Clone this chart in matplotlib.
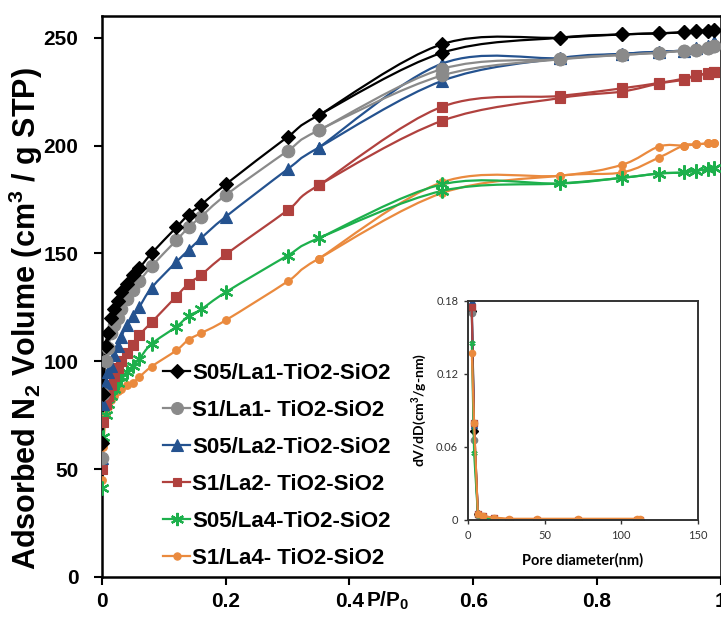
import numpy as np
import matplotlib
matplotlib.use('Agg')
import matplotlib.pyplot as plt
from matplotlib.path import Path
from matplotlib.patches import PathPatch
from matplotlib.lines import Line2D

# adsorption branch (relative pressure P/P0)
p_ads = [0.0005, 0.002, 0.006, 0.01, 0.015, 0.02, 0.026, 0.031, 0.04, 0.05, 0.06, 0.08,
         0.12, 0.14, 0.16, 0.20, 0.30, 0.35, 0.55, 0.74, 0.84, 0.90, 0.94, 0.96, 0.98, 0.99]
# desorption branch
p_des = [0.99, 0.98, 0.96, 0.94, 0.90, 0.84, 0.74, 0.55, 0.35]

labels = ['S05/La1-TiO2-SiO2', 'S1/La1- TiO2-SiO2', 'S05/La2-TiO2-SiO2',
          'S1/La2- TiO2-SiO2', 'S05/La4-TiO2-SiO2', 'S1/La4- TiO2-SiO2']
colors = ['#000000', '#8a8a8a', '#24528f', '#b0413e', '#1db04c', '#ea8a3e']
markers = ['D', 'o', '^', 's', (6, 2, 0), 'o']
msizes = [7, 9, 8.5, 6.5, 10, 5.5]

ads_s05la1 = [62, 85, 107, 113, 120, 124, 128, 132, 136, 140, 143, 150, 162, 168, 172.5, 182,
              204, 214, 243, 250, 251.5, 252, 252.5, 253, 253.3, 253.5]
des_s05la1 = [253.5, 253.3, 253, 252.5, 252, 251.5, 250, 247, 214]
ads_s1la1 = [55, 85, 100, 106, 113, 117, 120, 124, 129, 133, 137, 144, 156, 162, 167, 177,
             197.5, 207, 232.5, 240, 242, 243, 244, 244.5, 245, 246]
des_s1la1 = [246, 245, 244.5, 244, 243, 242, 240, 235.5, 207]
ads_s05la2 = [55, 80, 90, 95, 98, 103, 107, 111, 117, 121, 125, 134, 146, 151.5, 157, 167,
              189, 199, 230, 240.5, 242.5, 243.5, 244, 245, 246, 248]
des_s05la2 = [248, 246, 245, 244, 243.5, 242.5, 240.5, 238, 199]
ads_s1la2 = [50, 72, 80, 84, 89, 93, 97, 100, 104, 107.5, 112, 118, 130, 136, 140, 149.5,
             170, 181.5, 211.5, 222, 225, 228.7, 230.5, 232.4, 233.3, 234]
des_s1la2 = [234, 233.5, 232.5, 231, 229, 226.5, 223, 218, 181.5]
ads_s05la4 = [41, 65, 75, 80, 84, 87, 90, 92.5, 95, 98, 101, 108, 116, 121, 124, 132,
              149, 157, 179, 182.4, 185, 187, 187.5, 188.4, 189, 189.5]
des_s05la4 = [189.5, 189, 188.4, 187.5, 187, 185, 182.4, 182, 157]
ads_s1la4 = [45, 60, 75, 79, 82, 84, 86, 87, 89, 90, 92.6, 97.5, 105, 110, 113, 119,
             137, 147.5, 178, 186, 187.5, 194.4, 200, 200.5, 201, 201.3]
des_s1la4 = [201.3, 201, 200.5, 200, 199.5, 191, 186, 183, 147.5]

ads_all = [ads_s05la1, ads_s1la1, ads_s05la2, ads_s1la2, ads_s05la4, ads_s1la4]
des_all = [des_s05la1, des_s1la1, des_s05la2, des_s1la2, des_s05la4, des_s1la4]

# inset: pore size distribution
pore_d = [2.5, 4, 6.5, 9.7, 17, 27, 45, 72, 110, 112]
psd_s05la1 = [0.172, 0.073, 0.005, 0.002, 0.001, 0, 0, 0, 0, 0]
psd_s1la1 = [0.170, 0.066, 0.004, 0.002, 0.001, 0, 0, 0, 0, 0]
psd_s05la2 = [0.180, 0.078, 0.005, 0.002, 0.001, 0, 0, 0, 0, 0]
psd_s1la2 = [0.175, 0.080, 0.005, 0.003, 0.002, 0, 0, 0, 0, 0]
psd_s05la4 = [0.145, 0.055, 0.004, 0.002, 0.001, 0, 0, 0, 0, 0]
psd_s1la4 = [0.137, 0.080, 0.005, 0.003, 0.002, 0.001, 0.001, 0.001, 0.001, 0.001]
psd_all = [psd_s05la1, psd_s1la1, psd_s05la2, psd_s1la2, psd_s05la4, psd_s1la4]


def smooth_path(x, y):
	# excel-like smoothed line, drawn as cubic bezier segments
	pts = np.column_stack([x, y]).astype(float)
	n = len(pts)
	verts = [pts[0]]
	codes = [Path.MOVETO]
	for i in range(n - 1):
		p0 = pts[i - 1] if i > 0 else pts[i]
		p1 = pts[i]
		p2 = pts[i + 1]
		p3 = pts[i + 2] if i + 2 < n else pts[i + 1]
		verts += [p1 + (p2 - p0) / 6.0, p2 - (p3 - p1) / 6.0, p2]
		codes += [Path.CURVE4] * 3
	return Path(verts, codes)


plt.rcParams['font.family'] = ['Liberation Sans', 'DejaVu Sans']
plt.rcParams['font.weight'] = 'bold'
plt.rcParams['mathtext.fontset'] = 'custom'
plt.rcParams['mathtext.rm'] = 'Liberation Sans:bold'
plt.rcParams['mathtext.bf'] = 'Liberation Sans:bold'

fig = plt.figure(figsize=(7.21, 6.19), dpi=100)
ax = fig.add_axes([0.1415, 0.068, 0.858, 0.906])

for i in range(len(labels)):
	for xs, ys in [(p_ads, ads_all[i]), (p_des, des_all[i])]:
		ax.add_patch(PathPatch(smooth_path(xs, ys), fill=False, edgecolor=colors[i],
		                       lw=1.6, zorder=2 + 0.1 * (6 - i)))
		ax.plot(xs, ys, ls='none', marker=markers[i], ms=msizes[i], color=colors[i],
		        mec=colors[i], mew=1.6 if i == 4 else 0.8, zorder=3 + 0.1 * (6 - i))

ax.set_xlim(0, 1)
ax.set_ylim(0, 260)
ax.set_xticks([0, 0.2, 0.4, 0.6, 0.8, 1])
ax.set_xticklabels(['0', '0.2', '0.4', '0.6', '0.8', '1'])
ax.set_yticks([0, 50, 100, 150, 200, 250])
ax.tick_params(direction='out', length=6, width=1.5, labelsize=15)
ax.tick_params(axis='x', pad=5)
ax.tick_params(axis='y', pad=11)
for s in ax.spines.values():
	s.set_linewidth(1.8)
ax.set_ylabel('Adsorbed N$_2$ Volume (cm$^3$ / g STP)', fontsize=22, fontweight='bold')
ax.yaxis.set_label_coords(-0.092, 0.46)
fig.text(0.508, 0.029, 'P/P$_0$', fontsize=15, fontweight='bold', ha='left', va='center')

handles = [Line2D([], [], color=colors[i], lw=1.6, marker=markers[i],
                  ms=msizes[i] * 0.95, mew=1.6 if i == 4 else 0.8) for i in range(len(labels))]
ax.legend(handles, labels, loc='upper left', bbox_to_anchor=(0.085, 0.397), frameon=False,
          fontsize=16, handlelength=1.2, handletextpad=0.1, labelspacing=0.72, borderaxespad=0)

# inset
ins = fig.add_axes([0.649, 0.16, 0.319, 0.354])
for i in range(len(labels)):
	ins.plot(pore_d, psd_all[i], color=colors[i] if i != 1 else '#808080', lw=1.5,
	         marker=markers[i], ms=4.5, mew=1.0, zorder=2 + 0.1 * i)
ins.set_xlim(0, 150)
ins.set_ylim(0, 0.18)
ins.set_xticks([0, 50, 100, 150])
ins.set_yticks([0, 0.06, 0.12, 0.18])
ins.set_yticklabels(['0', '0.06', '0.12', '0.18'])
for t in ins.get_xticklabels() + ins.get_yticklabels():
	t.set_family('Lato')
	t.set_fontweight('normal')
ins.tick_params(direction='out', length=3, width=1, labelsize=8, pad=4, colors='#333333')
for s in ins.spines.values():
	s.set_linewidth(1.4)
	s.set_color('#333333')
ins.set_xlabel('Pore diameter(nm)', fontsize=10.5, fontweight='bold', family='Lato', labelpad=9)
ins.set_ylabel('dV/dD(cm$^3$/g-nm)', fontsize=10, fontweight='bold', family='Lato', labelpad=5)

fig.savefig('out.png', dpi=100)
